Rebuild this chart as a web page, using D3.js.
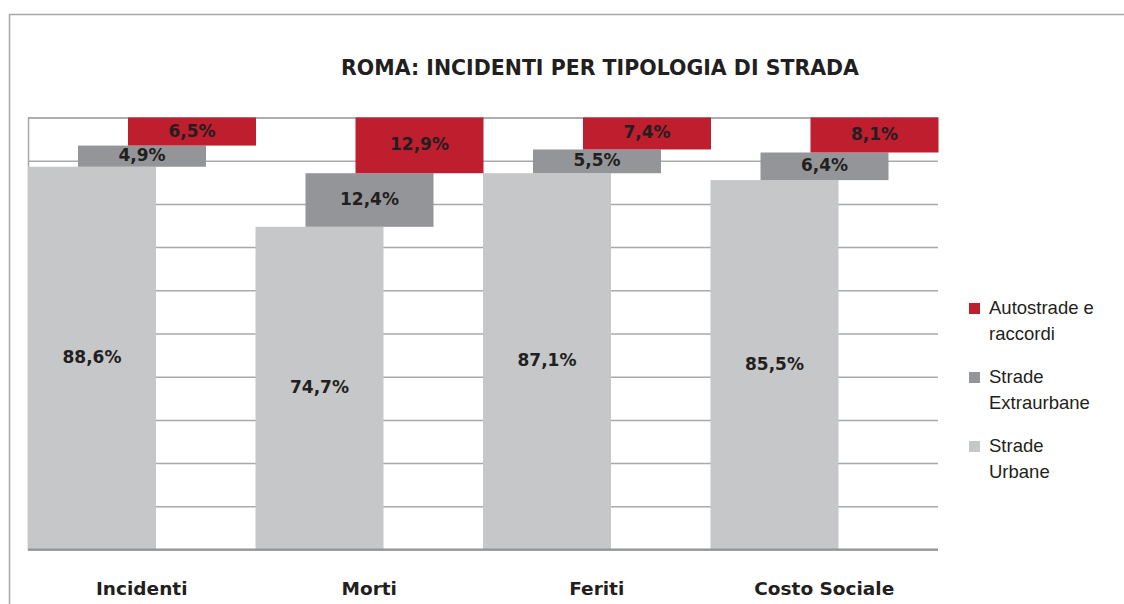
<!DOCTYPE html>
<html>
<head>
<meta charset="utf-8">
<script src="https://cdn.jsdelivr.net/npm/d3@7"></script>
<style>
  body { margin: 0; background: #fff; }
  svg { display: block; }
  .lbl { font-family: "DejaVu Sans", sans-serif; font-weight: bold; fill: #231f20; }
  .leg { font-family: "Liberation Sans", Arial, sans-serif; fill: #231f20; }
</style>
</head>
<body>
<svg width="1124" height="604"></svg>
<script>
// dati
const categories = ['Incidenti', 'Morti', 'Feriti', 'Costo Sociale']
const seriesNames = ['Strade Urbane', 'Strade Extraurbane', 'Autostrade e raccordi']
const urbane = [88.6, 74.7, 87.1, 85.5]
const extraurbane = [4.9, 12.4, 5.5, 6.4]
const autostrade = [6.5, 12.9, 7.4, 8.1]
const yTicks = [0, 10, 20, 30, 40, 50, 60, 70, 80, 90, 100]

const colors = ['#c6c7c9', '#949598', '#be1e2d']
const legendLines = [['Autostrade e', 'raccordi'], ['Strade', 'Extraurbane'], ['Strade', 'Urbane']]

const svg = d3.select('svg')

// cornice
svg.append('rect')
  .attr('x', 9.5).attr('y', 14.5)
  .attr('width', 1300).attr('height', 800)
  .attr('fill', 'none').attr('stroke', '#a7a7a7').attr('stroke-width', 1.5)

// titolo
svg.append('text')
  .attr('class', 'lbl')
  .attr('x', 600).attr('y', 75)
  .attr('text-anchor', 'middle')
  .style('font-size', '20.5px')
  .text('ROMA: INCIDENTI PER TIPOLOGIA DI STRADA')

const plotLeft = 28, plotRight = 938, plotTop = 117.5, plotBottom = 549.5

const x = d3.scaleBand().domain(categories).range([plotLeft, plotRight]).padding(0)
const y = d3.scaleLinear().domain([0, 100]).range([plotBottom, plotTop])

// griglia
svg.append('g')
  .attr('transform', `translate(${plotLeft},0)`)
  .call(d3.axisLeft(y).tickValues(yTicks).tickSize(-(plotRight - plotLeft)).tickFormat(''))
  .call(g => g.select('.domain').attr('stroke', '#a7a9ac').attr('stroke-width', 1.5))
  .call(g => g.selectAll('.tick line').attr('stroke', '#a7a9ac').attr('stroke-width', 1.5))

// serie cumulate
const table = categories.map((c, i) => ({ cat: c, s0: urbane[i], s1: extraurbane[i], s2: autostrade[i] }))
const stack = d3.stack().keys(['s0', 's1', 's2'])(table)

const bw = x.bandwidth() * 128 / 227.5
const step = x.bandwidth() * 50 / 227.5

const fmt = d3.formatLocale({ decimal: ',', thousands: '.', grouping: [3], currency: ['', '€'] }).format('.1f')

stack.forEach((layer, si) => {
  const g = svg.append('g')
  g.selectAll('rect')
    .data(layer)
    .enter()
    .append('rect')
    .attr('x', d => x(d.data.cat) + si * step)
    .attr('y', d => y(d[1]))
    .attr('width', bw)
    .attr('height', d => y(d[0]) - y(d[1]))
    .attr('fill', colors[si])
  g.selectAll('text')
    .data(layer)
    .enter()
    .append('text')
    .attr('class', 'lbl')
    .attr('x', d => x(d.data.cat) + si * step + bw / 2)
    .attr('y', d => (y(d[0]) + y(d[1])) / 2 + 5)
    .attr('text-anchor', 'middle')
    .style('font-size', '17px')
    .text(d => fmt(d[1] - d[0]) + '%')
})

// asse x
svg.append('line')
  .attr('x1', plotLeft).attr('x2', plotRight)
  .attr('y1', plotBottom).attr('y2', plotBottom)
  .attr('stroke', '#939598').attr('stroke-width', 2)

svg.append('g')
  .selectAll('text')
  .data(categories)
  .enter()
  .append('text')
  .attr('class', 'lbl')
  .attr('x', d => x(d) + x.bandwidth() / 2)
  .attr('y', 595)
  .attr('text-anchor', 'middle')
  .style('font-size', '18.5px')
  .text(d => d)

// legenda
const legColors = [colors[2], colors[1], colors[0]]
const leg = svg.append('g').selectAll('g')
  .data(legendLines)
  .enter()
  .append('g')
  .attr('transform', (d, i) => `translate(969, ${303 + i * 69})`)

leg.append('rect')
  .attr('width', 11).attr('height', 11)
  .attr('fill', (d, i) => legColors[i])

leg.append('text')
  .attr('class', 'leg')
  .attr('x', 20)
  .attr('y', 11)
  .style('font-size', '18.5px')
  .selectAll('tspan')
  .data(d => d)
  .enter()
  .append('tspan')
  .attr('x', 20)
  .attr('dy', (d, i) => i === 0 ? 0 : 26)
  .text(d => d)
</script>
</body>
</html>
